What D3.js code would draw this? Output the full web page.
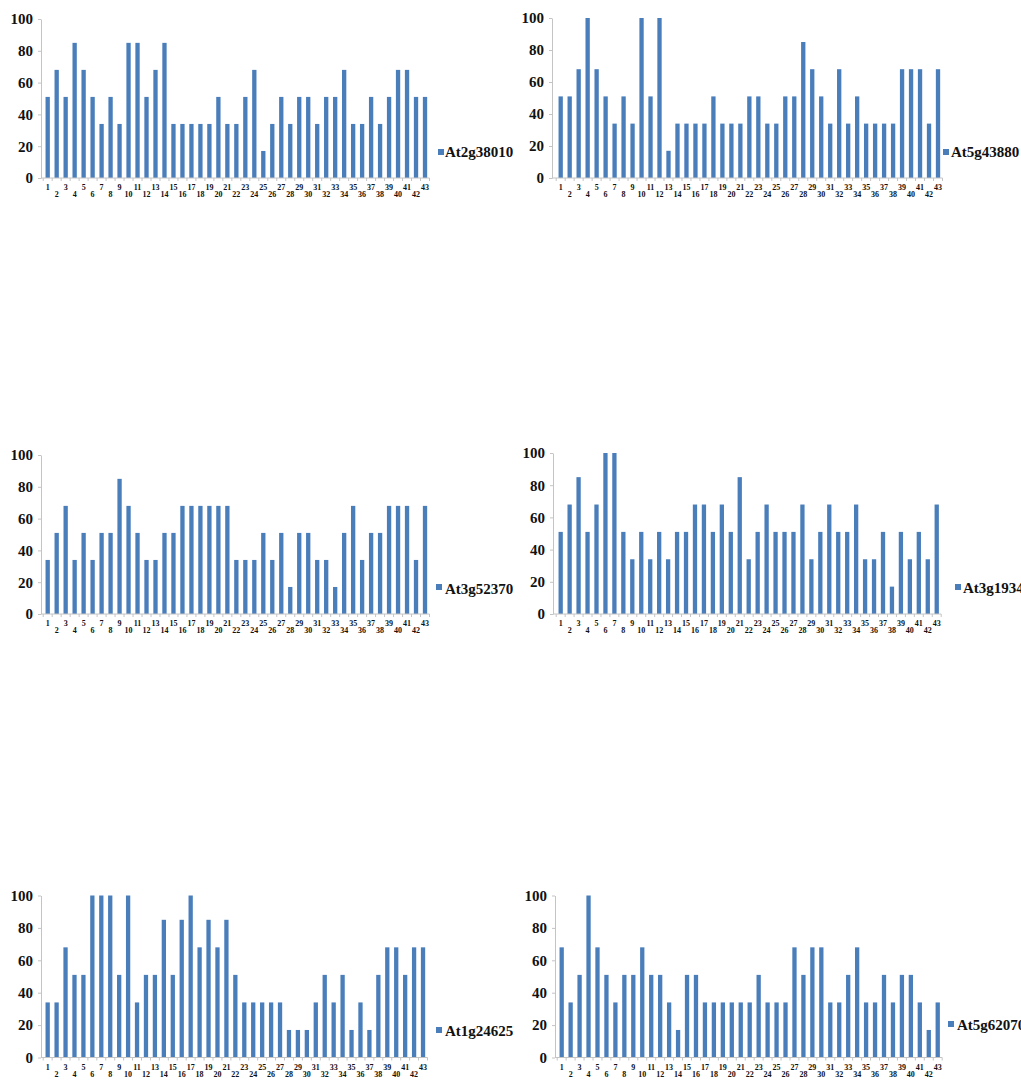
<!DOCTYPE html>
<html><head><meta charset="utf-8">
<script src="https://cdn.jsdelivr.net/npm/d3@7"></script>
<style>body{margin:0;background:#fff}svg{display:block}</style>
</head><body><svg id="c" width="1021" height="1082"></svg>
<script>
const categories = [1,2,3,4,5,6,7,8,9,10,11,12,13,14,15,16,17,18,19,20,21,22,23,24,25,26,27,28,29,30,31,32,33,34,35,36,37,38,39,40,41,42,43];
const genes = ["At2g38010","At5g43880","At3g52370","At3g19340","At1g24625","At5g62070"];
const valsAt2g38010 = [51,68,51,85,68,51,34,51,34,85,85,51,68,85,34,34,34,34,34,51,34,34,51,68,17,34,51,34,51,51,34,51,51,68,34,34,51,34,51,68,68,51,51];
const valsAt5g43880 = [51,51,68,100,68,51,34,51,34,100,51,100,17,34,34,34,34,51,34,34,34,51,51,34,34,51,51,85,68,51,34,68,34,51,34,34,34,34,68,68,68,34,68];
const valsAt3g52370 = [34,51,68,34,51,34,51,51,85,68,51,34,34,51,51,68,68,68,68,68,68,34,34,34,51,34,51,17,51,51,34,34,17,51,68,34,51,51,68,68,68,34,68];
const valsAt3g19340 = [51,68,85,51,68,100,100,51,34,51,34,51,34,51,51,68,68,51,68,51,85,34,51,68,51,51,51,68,34,51,68,51,51,68,34,34,51,17,51,34,51,34,68];
const valsAt1g24625 = [34,34,68,51,51,100,100,100,51,100,34,51,51,85,51,85,100,68,85,68,85,51,34,34,34,34,34,17,17,17,34,51,34,51,17,34,17,51,68,68,51,68,68];
const valsAt5g62070 = [68,34,51,100,68,51,34,51,51,68,51,51,34,17,51,51,34,34,34,34,34,34,51,34,34,34,68,51,68,68,34,34,51,68,34,34,51,34,51,51,34,17,34];
const yTickValues = [0,20,40,60,80,100];

const seriesList = [valsAt2g38010, valsAt5g43880, valsAt3g52370, valsAt3g19340, valsAt1g24625, valsAt5g62070];

// layout (positions only)
const layout = [
  {axisX:41,  band:[43.2,429.5], y0:178,  y100:19,  sq:[438,149],  tx:445, ty:157},
  {axisX:552, band:[556.2,942.5], y0:178, y100:18,  sq:[943,149],  tx:951, ty:157},
  {axisX:41,  band:[43.2,429.5], y0:614,  y100:455, sq:[436,584],  tx:445, ty:594},
  {axisX:553, band:[556.2,941.2], y0:614, y100:453, sq:[955,584],  tx:963, ty:593},
  {axisX:41,  band:[43.2,427.5], y0:1057.5, y100:895.5, sq:[436,1027], tx:445, ty:1036},
  {axisX:555, band:[557.2,942.2], y0:1057.5, y100:895.5, sq:[948,1021], tx:957, ty:1030}
];

const barColor = "#4a7ebb";
const axisColor = "#c4c4c4";
const fontFam = "'Liberation Serif','Times New Roman',serif";
const svg = d3.select("#c");
svg.append("rect").attr("width",1021).attr("height",1082).attr("fill","#fff");

seriesList.forEach((vals, i) => {
  const L = layout[i];
  const g = svg.append("g");
  const x = d3.scaleBand().domain(categories).range(L.band).paddingInner(0.52).paddingOuter(0.26);
  const y = d3.scaleLinear().domain([0,100]).range([L.y0, L.y100]);

  // bars
  g.selectAll("rect.bar").data(categories).join("rect")
    .attr("class","bar")
    .attr("x", c => x(c))
    .attr("width", x.bandwidth())
    .attr("y", (c,j) => y(vals[j]))
    .attr("height", (c,j) => L.y0 - y(vals[j]))
    .attr("fill", barColor);

  // y axis
  const ya = g.append("g").attr("transform", `translate(${L.axisX},0)`)
    .call(d3.axisLeft(y).tickValues(yTickValues).tickSize(3).tickSizeOuter(0).tickPadding(5));
  ya.select(".domain").attr("stroke", axisColor);
  ya.selectAll(".tick line").attr("stroke", axisColor);
  ya.selectAll(".tick text").attr("font-family", fontFam).attr("font-weight","bold")
    .attr("font-size", 15).attr("fill","#111");

  // x axis baseline
  g.append("line").attr("x1", L.axisX).attr("x2", L.band[1]).attr("y1", L.y0).attr("y2", L.y0)
    .attr("stroke", axisColor).attr("stroke-width",1);
  // category boundary ticks
  const gap = (x.step() - x.bandwidth())/2;
  const bounds = categories.map(c => x(c) - gap).concat([L.band[1]]);
  g.selectAll("line.bt").data(bounds).join("line").attr("class","bt")
    .attr("x1", d => d).attr("x2", d => d).attr("y1", L.y0).attr("y2", L.y0+3)
    .attr("stroke", axisColor);

  const xa = g.append("g").attr("transform", `translate(0,${L.y0})`)
    .call(d3.axisBottom(x).tickSize(0).tickPadding(0));
  xa.select(".domain").remove();
  xa.selectAll(".tick text")
    .attr("font-family", fontFam).attr("font-weight","bold").attr("font-size", 8).attr("fill","#111")
    .attr("dy", null)
    .attr("y", c => (c % 2 === 1) ? 12 : 19);

  // legend
  g.append("rect").attr("x", L.sq[0]).attr("y", L.sq[1]).attr("width", 6).attr("height", 6).attr("fill", barColor);
  g.append("text").attr("x", L.tx).attr("y", L.ty).text(genes[i])
    .attr("font-family", fontFam).attr("font-weight","bold").attr("font-size", 15).attr("fill","#111");
});
</script></body></html>
